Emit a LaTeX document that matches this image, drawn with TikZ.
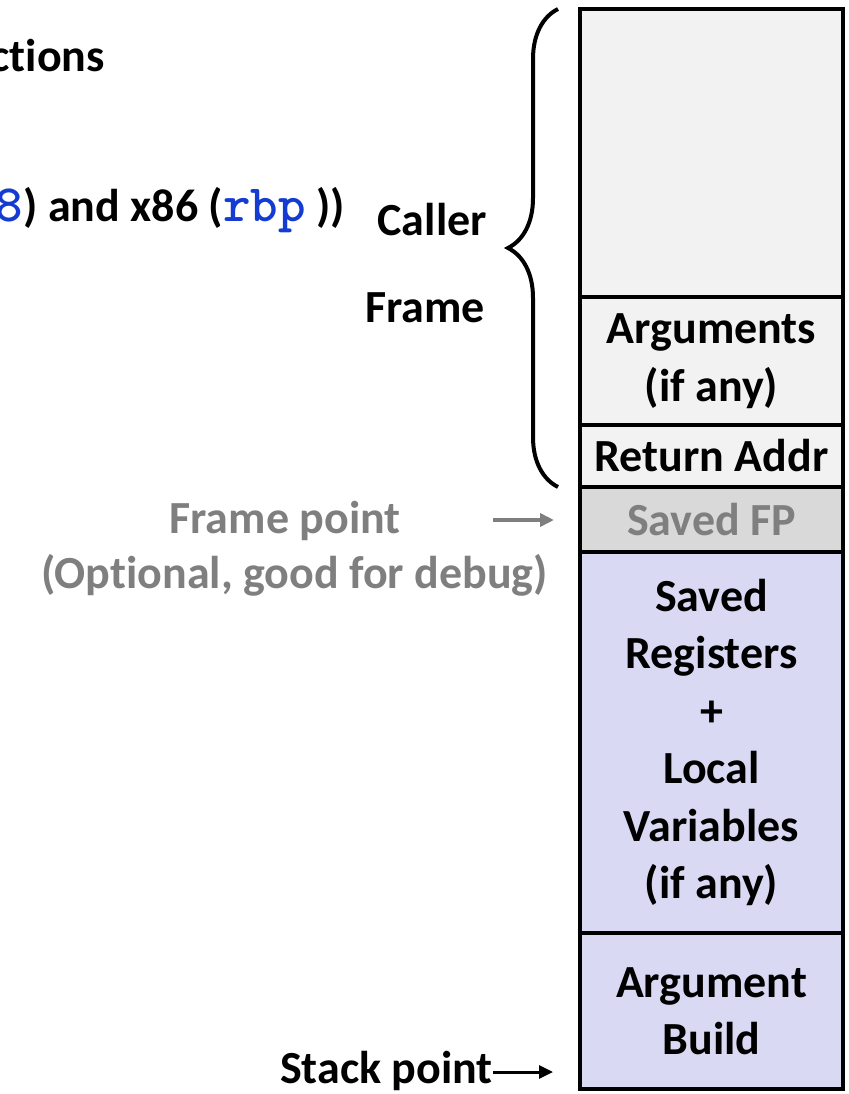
\documentclass[tikz,border=0pt]{standalone}
\usepackage{fontspec}
\setmainfont{Carlito}[Ligatures=NoCommon]
\newfontfamily\codefont{lmmonolt10-bold}[Extension=.otf,BoldFont=lmmonolt10-bold,Scale=1.14]
\usepackage{xcolor}
\usetikzlibrary{arrows.meta,positioning,decorations.pathreplacing}

\definecolor{callergray}{HTML}{F2F2F2}
\definecolor{fpgray}{HTML}{D9D9D9}
\definecolor{textgray}{HTML}{7F7F7F}
\definecolor{calleepurple}{RGB}{217,217,243}
\definecolor{regblue}{RGB}{20,60,210}

\tikzset{
  txt/.style={inner sep=0pt,font=\bfseries\fontsize{46}{57.5}\selectfont},
  cell/.style={txt,draw,line width=4.5pt,minimum width=263pt,outer sep=0pt,align=center},
  ptrarrow/.style={line width=3.5pt,-{Triangle[length=14pt,width=13pt]}}
}

\begin{document}
\begin{tikzpicture}[x=1pt,y=-1pt]
			\path[use as bounding box,clip] (0,0) rectangle (848,1094);

			% stack frames
			\node[cell,fill=callergray,minimum height=288pt] (top) at (711.5,153) {};
			\node[cell,fill=callergray,minimum height=128pt,below=0pt of top] (args) {Arguments\\(if any)};
			\node[cell,fill=callergray,minimum height=62pt,below=0pt of args] (ret) {Return Addr};
			\node[cell,fill=fpgray,text=textgray,minimum height=65pt,below=0pt of ret] (fp) {Saved FP};
			\node[cell,fill=calleepurple,minimum height=381pt,below=0pt of fp] (saved) {Saved\\Registers\\+\\Local\\Variables\\(if any)};
			\node[cell,fill=calleepurple,minimum height=156pt,below=0pt of saved] (build) {Argument\\Build};

			\draw[line width=4pt,decorate,decoration={brace,amplitude=50pt}]
				([xshift=-22pt]ret.south west) -- ([xshift=-22pt]top.north west);
			\node[txt,anchor=base east] (caller) at (487,235) {Caller};
			\node[txt,anchor=base east] (frame) at (485,322) {Frame};

			% left side texts
			\node[txt,anchor=base east] (title) at (105,72) {ctions};
			\node[txt,anchor=base east] (regs) at (345,221) {{\codefont\color{regblue}8}) and x86 ({\codefont\color{regblue}rbp} ))};

			\node[txt,text=textgray,anchor=base] (fplabel) at (285,533) {Frame point};
			\node[txt,text=textgray,anchor=base east] (fpnote) at (548,588) {(Optional, good for debug)};
			\coordinate (fptail) at (493,520);
			\draw[ptrarrow,textgray] (fptail) -- ([xshift=-26pt]fp.west |- fptail);

			\node[txt,anchor=base east] (sp) at (493,1083) {Stack point};
			\coordinate (sptip) at (553,1072);
			\draw[ptrarrow,line width=3pt] (sp.east |- sptip) -- (sptip);
		\end{tikzpicture}
\end{document}
